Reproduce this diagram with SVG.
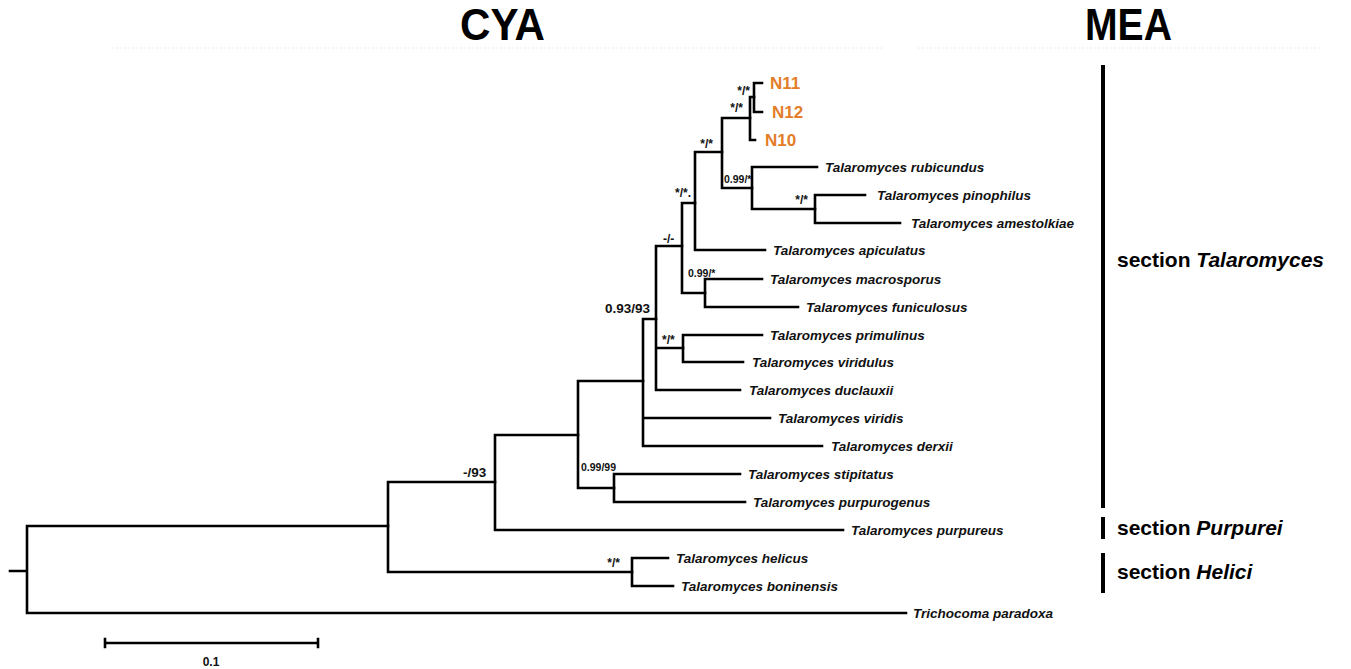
<svg xmlns="http://www.w3.org/2000/svg" width="1351" height="669" viewBox="0 0 1351 669">
<style>
.br{fill:none;stroke:#000;stroke-width:2.6;stroke-linecap:square;stroke-linejoin:miter}
.sp{font-family:"Liberation Sans",Arial,sans-serif;font-weight:bold;font-style:italic;font-size:13.5px;fill:#111}
.nn{font-family:"Liberation Sans",Arial,sans-serif;font-weight:bold;font-size:17px;fill:#E37D28}
.sl{font-family:"Liberation Sans",Arial,sans-serif;font-weight:bold;font-size:12px;fill:#111}
.ss{font-family:"Liberation Sans",Arial,sans-serif;font-weight:bold;font-size:10.5px;fill:#111}
.sm{font-family:"Liberation Sans",Arial,sans-serif;font-weight:bold;font-size:13.5px;fill:#111}
.sec{font-family:"Liberation Sans",Arial,sans-serif;font-weight:bold;font-size:21px;fill:#000}
.hd{font-family:"Liberation Sans Narrow","Liberation Sans",Arial,sans-serif;font-weight:bold;font-size:44px;fill:#000}
.bar{fill:#000}
</style>
<rect width="1351" height="669" fill="#fff"/>
<g id="headers">
<text class="hd" x="460" y="40" textLength="85" lengthAdjust="spacingAndGlyphs">CYA</text>
<text class="hd" x="1085" y="40" textLength="87" lengthAdjust="spacingAndGlyphs">MEA</text>
<line x1="112" y1="48" x2="882" y2="48" stroke="#ececec" stroke-width="1" stroke-dasharray="2 2"/>
<line x1="918" y1="48" x2="1322" y2="48" stroke="#ececec" stroke-width="1" stroke-dasharray="2 2"/>
</g>
<g id="connectors">
<path class="br" d="M10 571H27M27 526V613M27 526H388M27 613H906"/>
<path class="br" d="M388 482V572M388 482H495M388 572H632"/>
<path class="br" d="M632 558V586M632 558H668M632 586H673"/>
<path class="br" d="M495 435V530M495 435H578M495 530H843"/>
<path class="br" d="M578 381V488M578 381H643M578 488H614"/>
<path class="br" d="M614 474V502M614 474H740M614 502H745"/>
<path class="br" d="M643 319V446M643 319H656M643 418H770M643 446H822"/>
<path class="br" d="M656 246V390M656 246H682M656 348H683M656 390H740"/>
<path class="br" d="M683 335V362M683 335H762M683 362H743"/>
<path class="br" d="M682 203V293M682 203H695M682 293H705"/>
<path class="br" d="M705 279V307M705 279H762M705 307H798"/>
<path class="br" d="M695 152V250M695 152H722M695 250H765"/>
<path class="br" d="M722 118V188M722 118H750M722 188H752"/>
<path class="br" d="M750 97V140M750 97H754M750 140H755"/>
<path class="br" d="M754 83V112M754 83H762M754 112H762"/>
<path class="br" d="M752 167V209M752 167H817M752 209H815"/>
<path class="br" d="M815 195V223M815 195H865M815 223H900"/>
</g>
<g id="support">
<text class="sl" x="750" y="95" text-anchor="end">*/*</text>
<text class="sl" x="743" y="112" text-anchor="end">*/*</text>
<text class="sl" x="713" y="148" text-anchor="end">*/*</text>
<text class="sl" x="675" y="197">*/*.</text>
<text class="ss" x="724" y="183">0.99/*</text>
<text class="sl" x="808" y="204" text-anchor="end">*/*</text>
<text class="sl" x="663" y="243">-/-</text>
<text class="ss" x="688" y="277">0.99/*</text>
<text class="sm" x="605" y="313">0.93/93</text>
<text class="sl" x="662" y="344">*/*</text>
<text class="ss" x="581" y="471">0.99/99</text>
<text class="sm" x="463" y="477">-/93</text>
<text class="sl" x="620" y="567" text-anchor="end">*/*</text>
</g>
<g id="n11"><text class="nn" x="770" y="89">N11</text></g>
<g id="n12"><text class="nn" x="772" y="118">N12</text></g>
<g id="n10"><text class="nn" x="765" y="146">N10</text></g>
<g id="t-rubicundus"><text class="sp" x="825" y="172">Talaromyces rubicundus</text></g>
<g id="t-pinophilus"><text class="sp" x="877" y="200">Talaromyces pinophilus</text></g>
<g id="t-amestolkiae"><text class="sp" x="911" y="228">Talaromyces amestolkiae</text></g>
<g id="t-apiculatus"><text class="sp" x="773" y="255">Talaromyces apiculatus</text></g>
<g id="t-macrosporus"><text class="sp" x="770" y="284">Talaromyces macrosporus</text></g>
<g id="t-funiculosus"><text class="sp" x="806" y="312">Talaromyces funiculosus</text></g>
<g id="t-primulinus"><text class="sp" x="770" y="340">Talaromyces primulinus</text></g>
<g id="t-viridulus"><text class="sp" x="752" y="367">Talaromyces viridulus</text></g>
<g id="t-duclauxii"><text class="sp" x="749" y="395">Talaromyces duclauxii</text></g>
<g id="t-viridis"><text class="sp" x="778" y="423">Talaromyces viridis</text></g>
<g id="t-derxii"><text class="sp" x="831" y="451">Talaromyces derxii</text></g>
<g id="t-stipitatus"><text class="sp" x="748" y="479">Talaromyces stipitatus</text></g>
<g id="t-purpurogenus"><text class="sp" x="753" y="507">Talaromyces purpurogenus</text></g>
<g id="t-purpureus"><text class="sp" x="851" y="535">Talaromyces purpureus</text></g>
<g id="t-helicus"><text class="sp" x="676" y="563">Talaromyces helicus</text></g>
<g id="t-boninensis"><text class="sp" x="681" y="591">Talaromyces boninensis</text></g>
<g id="t-trichocoma"><text class="sp" x="913" y="618">Trichocoma paradoxa</text></g>
<g id="sec-talaromyces">
<rect class="bar" x="1101" y="65" width="4" height="443"/>
<text class="sec" x="1117" y="267">section <tspan font-style="italic">Talaromyces</tspan></text>
</g>
<g id="sec-purpurei">
<rect class="bar" x="1101" y="517" width="4" height="22"/>
<text class="sec" x="1117" y="535">section <tspan font-style="italic">Purpurei</tspan></text>
</g>
<g id="sec-helici">
<rect class="bar" x="1101" y="553" width="4" height="40"/>
<text class="sec" x="1117" y="579">section <tspan font-style="italic">Helici</tspan></text>
</g>
<g id="scale">
<path class="br" d="M105 643H318M105 639V647M318 639V647"/>
<text class="sl" x="211" y="666" text-anchor="middle">0.1</text>
</g>
</svg>
